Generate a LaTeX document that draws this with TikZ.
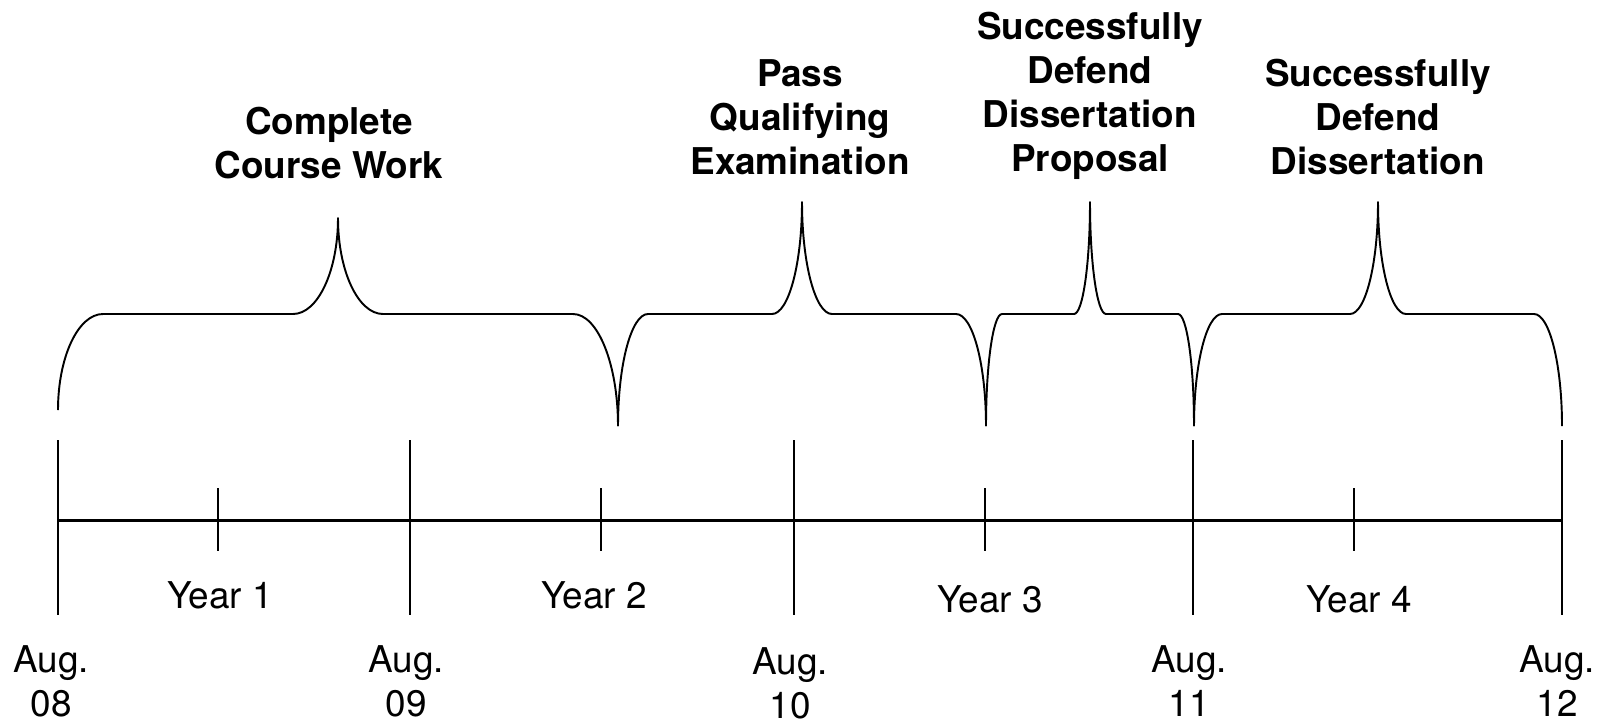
\documentclass[tikz,border=0pt]{standalone}
\usepackage{fontspec}
\setmainfont{TeX Gyre Heros}
\usetikzlibrary{positioning}

\begin{document}
\begin{tikzpicture}[x=0.02cm, y=-0.02cm,
	goal/.style = {align=center, font=\fontsize{21}{25}\selectfont\bfseries, inner sep=0, anchor=south, text depth=0pt},
	year/.style = {font=\fontsize{21}{25}\selectfont, inner sep=0, anchor=base},
	date/.style = {align=center, font=\fontsize{21}{25}\selectfont, inner sep=0, anchor=south, text depth=0pt},
	axis/.style = {line width=1.7pt},
	tick/.style = {line width=1.6pt},
	brace/.style = {line width=1.1pt, line join=round}]
		\useasboundingbox (0,0) rectangle (1606,724);
		% time axis
		\coordinate (start) at (58,520);
		\coordinate (end) at (1562,520);
		\draw[axis] (start) -- (end);
		\foreach \x in {58,410,794,1193,1562}
			\draw[tick] (\x,440) -- (\x,615);
		\foreach \x in {218,601,985,1354}
			\draw[tick] (\x,488) -- (\x,551);
		% braces
		\foreach \xl/\yl/\xt/\yt/\xr/\yr/\c in {58/410/338/218/618/426/45, 618/426/802/202/986/426/30, 986/426/1090/202/1194/426/16, 1194/426/1378/202/1562/426/28}
			\draw[brace] (\xl,\yl) .. controls (\xl,{\yl-0.552*(\yl-314)}) and ({\xl+0.448*\c},314) .. ({\xl+\c},314)
				-- ({\xt-\c},314) .. controls ({\xt-0.448*\c},314) and (\xt,{\yt+0.552*(314-\yt)}) .. (\xt,\yt)
				.. controls (\xt,{\yt+0.552*(314-\yt)}) and ({\xt+0.448*\c},314) .. ({\xt+\c},314)
				-- ({\xr-\c},314) .. controls ({\xr-0.448*\c},314) and (\xr,{\yr-0.552*(\yr-314)}) .. (\xr,\yr);
		% milestones
		\node[goal] (course) at (329,179) {Complete\\Course Work};
		\node[goal] (qual) at (800,175) {Pass\\Qualifying\\Examination};
		\node[goal] (prop) at (1090,172) {Successfully\\Defend\\Dissertation\\Proposal};
		\node[goal] (diss) at (1378,175) {Successfully\\Defend\\Dissertation};
		% years
		\node[year] (y1) at (220,608) {Year 1};
		\node[year] (y2) at (594,608) {Year 2};
		\node[year] (y3) at (990,612) {Year 3};
		\node[year] (y4) at (1359,612) {Year 4};
		% dates
		\node[date] (aug08) at (51,717) {Aug.\\08};
		\node[date] (aug09) at (406,717) {Aug.\\09};
		\node[date] (aug10) at (790,719) {Aug.\\10};
		\node[date] (aug11) at (1189,717) {Aug.\\11};
		\node[date] (aug12) at (1557,717) {Aug.\\12};
	\end{tikzpicture}
\end{document}
